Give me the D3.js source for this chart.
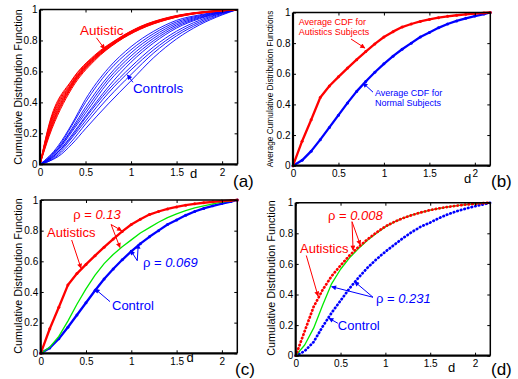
<!DOCTYPE html>
<html><head><meta charset="utf-8">
<script src="https://cdn.jsdelivr.net/npm/d3@7"></script>
<style>
html,body{margin:0;padding:0;background:#fff;}
svg{display:block;}
text{font-family:"Liberation Sans", Arial, Helvetica, sans-serif;}
</style></head><body>
<svg id="chart" width="518" height="379"></svg>
<script>
// ---------------- DATA ----------------
const xTicks = [0, 0.5, 1, 1.5, 2];
const xTickLabels = ["0", "0.5", "1", "1.5", "2"];
const yTicks = [0, 0.2, 0.4, 0.6, 0.8, 1];
const yTickLabels = ["0", "0.2", "0.4", "0.6", "0.8", "1"];

// (a) individual CDFs
const dRedA = [0, 0.1, 0.35, 0.6, 0.85, 1.1, 1.4, 1.7, 2.0, 2.17];
const autisticCurvesA = [
  [0, 0.26, 0.545, 0.705, 0.81, 0.89, 0.948, 0.98, 0.995, 1],
  [0, 0.25, 0.54, 0.70, 0.808, 0.888, 0.946, 0.979, 0.994, 1],
  [0, 0.245, 0.53, 0.697, 0.806, 0.886, 0.945, 0.978, 0.994, 1],
  [0, 0.235, 0.525, 0.693, 0.803, 0.884, 0.943, 0.977, 0.993, 1],
  [0, 0.225, 0.52, 0.69, 0.80, 0.882, 0.942, 0.976, 0.993, 1],
  [0, 0.215, 0.515, 0.686, 0.798, 0.88, 0.94, 0.975, 0.992, 1],
  [0, 0.205, 0.51, 0.683, 0.796, 0.878, 0.939, 0.974, 0.992, 1],
  [0, 0.2, 0.505, 0.68, 0.794, 0.876, 0.938, 0.973, 0.991, 1],
  [0, 0.19, 0.50, 0.675, 0.792, 0.874, 0.936, 0.973, 0.991, 1],
  [0, 0.18, 0.49, 0.67, 0.79, 0.872, 0.935, 0.972, 0.99, 1]
];
const dBlueA = [0, 0.1, 0.2, 0.35, 0.5, 0.75, 1.0, 1.25, 1.5, 1.75, 2.0, 2.17];
const controlCurvesA = [
  [0, 0.05, 0.12, 0.26, 0.42, 0.62, 0.76, 0.86, 0.93, 0.965, 0.99, 1],
  [0, 0.05, 0.11, 0.25, 0.40, 0.60, 0.74, 0.845, 0.92, 0.96, 0.988, 1],
  [0, 0.04, 0.10, 0.23, 0.37, 0.57, 0.72, 0.83, 0.91, 0.955, 0.986, 1],
  [0, 0.04, 0.10, 0.22, 0.35, 0.55, 0.70, 0.815, 0.90, 0.95, 0.984, 1],
  [0, 0.035, 0.09, 0.21, 0.33, 0.53, 0.68, 0.80, 0.89, 0.945, 0.982, 1],
  [0, 0.03, 0.08, 0.19, 0.31, 0.50, 0.66, 0.785, 0.88, 0.94, 0.98, 1],
  [0, 0.03, 0.08, 0.18, 0.30, 0.48, 0.63, 0.76, 0.86, 0.93, 0.977, 1],
  [0, 0.025, 0.07, 0.17, 0.28, 0.46, 0.61, 0.74, 0.845, 0.92, 0.975, 1],
  [0, 0.02, 0.06, 0.15, 0.26, 0.43, 0.58, 0.72, 0.83, 0.91, 0.97, 1],
  [0, 0.02, 0.05, 0.13, 0.23, 0.39, 0.54, 0.69, 0.81, 0.90, 0.965, 1]
];

// (b), (c), (d): CDFs sampled on a 0.1 grid
const dFine = [0, 0.1, 0.2, 0.3, 0.4, 0.5, 0.6, 0.7, 0.8, 0.9, 1.0, 1.1, 1.2, 1.3, 1.4, 1.5, 1.6, 1.7, 1.8, 1.9, 2.0, 2.1, 2.17];
const avgAutistic = [0, 0.16, 0.30, 0.445, 0.52, 0.58, 0.637, 0.692, 0.745, 0.795, 0.84, 0.875, 0.905, 0.925, 0.942, 0.955, 0.966, 0.975, 0.982, 0.988, 0.993, 0.997, 1];
const avgControl  = [0, 0.035, 0.095, 0.17, 0.25, 0.33, 0.41, 0.485, 0.55, 0.61, 0.665, 0.715, 0.76, 0.80, 0.84, 0.87, 0.90, 0.925, 0.945, 0.962, 0.977, 0.99, 1];
const fitC        = [0, 0.04, 0.11, 0.21, 0.32, 0.42, 0.51, 0.585, 0.645, 0.695, 0.74, 0.785, 0.82, 0.855, 0.885, 0.91, 0.93, 0.948, 0.962, 0.975, 0.986, 0.995, 1];
const autisticD   = [0, 0.16, 0.32, 0.43, 0.52, 0.59, 0.655, 0.71, 0.76, 0.805, 0.845, 0.875, 0.90, 0.92, 0.937, 0.952, 0.963, 0.973, 0.981, 0.988, 0.993, 0.997, 1];
const fitD        = [0, 0.07, 0.18, 0.33, 0.47, 0.565, 0.64, 0.70, 0.755, 0.80, 0.842, 0.875, 0.90, 0.92, 0.937, 0.952, 0.963, 0.973, 0.981, 0.988, 0.993, 0.997, 1];
const controlD    = [0, 0.03, 0.09, 0.19, 0.28, 0.36, 0.44, 0.51, 0.575, 0.63, 0.68, 0.725, 0.77, 0.81, 0.845, 0.87, 0.90, 0.925, 0.945, 0.962, 0.977, 0.99, 1];

const xMax = 2.17;

// ---------------- DRAWING ----------------
const RED = "#ff0000", BLUE = "#0000ff", GREEN = "#00ea00";
const svg = d3.select("#chart");
const defs = svg.append("defs");
[["red", RED], ["blue", BLUE]].forEach(([n, c]) => {
  defs.append("marker").attr("id", "arrow-" + n)
    .attr("viewBox", "0 0 10 10").attr("refX", 9).attr("refY", 5)
    .attr("markerWidth", 6.5).attr("markerHeight", 5)
    .attr("markerUnits", "userSpaceOnUse").attr("orient", "auto")
    .append("path").attr("d", "M0,0L10,5L0,10z").attr("fill", c);
});

function panel(box) {
  const x = d3.scaleLinear().domain([0, xMax]).range([box.l, box.r]);
  const y = d3.scaleLinear().domain([0, 1]).range([box.b, box.t]);
  const g = svg.append("g");
  const plot = g.append("g");
  const axG = g.append("g");
  const bottom = axG.append("g").attr("transform", `translate(0,${box.b})`)
    .call(d3.axisBottom(x).tickValues(xTicks).tickFormat((d, i) => xTickLabels[i])
      .tickSizeInner(-3).tickSizeOuter(0).tickPadding(4.5));
  const left = axG.append("g").attr("transform", `translate(${box.l},0)`)
    .call(d3.axisLeft(y).tickValues(yTicks).tickFormat((d, i) => yTickLabels[i])
      .tickSizeInner(-3).tickSizeOuter(0).tickPadding(2.5));
  const top = axG.append("g").attr("transform", `translate(0,${box.t})`)
    .call(d3.axisTop(x).tickValues(xTicks).tickFormat("").tickSizeInner(-3).tickSizeOuter(0));
  const right = axG.append("g").attr("transform", `translate(${box.r},0)`)
    .call(d3.axisRight(y).tickValues(yTicks).tickFormat("").tickSizeInner(-3).tickSizeOuter(0));
  [bottom, left, top, right].forEach(a => {
    a.select(".domain").remove();
    a.attr("font-family", null).attr("font-size", null);
    a.selectAll("line").attr("stroke", "#000").attr("stroke-width", 1);
    a.selectAll("text").attr("font-size", 10).attr("fill", "#000");
  });
  axG.append("path").attr("d", `M${box.l},${box.t}H${box.r}V${box.b}`)
    .attr("fill", "none").attr("stroke", "#000").attr("stroke-width", 1.5);
  axG.append("path").attr("d", `M${box.l},${box.t}V${box.b}H${box.r}`)
    .attr("fill", "none").attr("stroke", "#000").attr("stroke-width", 2.2);
  return { x, y, g, plot, box };
}

function curve(p, xs, vals, color, width, opts = {}) {
  const line = d3.line().x((d, i) => p.x(xs[i])).y(d => p.y(d))
    .curve(opts.linear ? d3.curveLinear : d3.curveMonotoneX);
  const path = p.plot.append("path").datum(vals).attr("d", line)
    .attr("fill", "none").attr("stroke", color).attr("stroke-width", width)
    .attr("stroke-linejoin", "round");
  if (opts.dash) path.attr("stroke-dasharray", opts.dash).attr("stroke-linecap", "round");
  if (opts.markers) {
    p.plot.selectAll(null).data(vals).enter().append("circle")
      .attr("cx", (d, i) => p.x(xs[i])).attr("cy", d => p.y(d))
      .attr("r", opts.markers).attr("fill", color);
  }
}

function label(p, parts, color, dx, dy, size, anchor) {
  const t = p.g.append("text").attr("x", p.x(dx)).attr("y", p.y(dy))
    .attr("fill", color).attr("font-size", size).attr("text-anchor", anchor || "start");
  parts.forEach(pt => {
    const s = t.append("tspan").text(pt.t);
    if (pt.it) s.attr("font-style", "italic");
  });
  return t;
}

function arrow(p, color, x1, y1, x2, y2) {
  p.g.append("line").attr("x1", p.x(x1)).attr("y1", p.y(y1))
    .attr("x2", p.x(x2)).attr("y2", p.y(y2))
    .attr("stroke", color).attr("stroke-width", 1)
    .attr("marker-end", `url(#arrow-${color === RED ? "red" : "blue"})`);
}

function yLabel(cx, cy, text, size) {
  svg.append("text").attr("transform", `translate(${cx},${cy}) rotate(-90)`)
    .attr("text-anchor", "middle").attr("dy", "0.35em")
    .attr("font-size", size).attr("fill", "#000").text(text);
}
function freeText(x, y, text, size, family, anchor) {
  const t = svg.append("text").attr("x", x).attr("y", y).attr("font-size", size)
    .attr("fill", "#000").attr("text-anchor", anchor || "start").text(text);
  if (family) t.attr("font-family", family);
  return t;
}
const SERIF = '"Liberation Serif", "Times New Roman", serif';

// ---- Panel (a)
const pA = panel({ l: 40, r: 237.6, t: 9.5, b: 164.3 });
controlCurvesA.forEach(c => curve(pA, dBlueA, c, BLUE, 0.9));
autisticCurvesA.forEach(c => curve(pA, dRedA, c, RED, 1));
label(pA, [{ t: "Autistic" }], RED, 0.44, 0.835, 13.5);
arrow(pA, RED, 0.62, 0.817, 0.71, 0.745);
label(pA, [{ t: "Controls" }], BLUE, 1.02, 0.46, 13.5);
arrow(pA, BLUE, 1.02, 0.53, 0.96, 0.577);
yLabel(18, 87, "Cumulative Distribution Function", 10.8);
freeText(193.5, 178, "d", 13, null, "middle");
freeText(233, 187, "(a)", 17, SERIF);

// ---- Panel (b)
const pB = panel({ l: 293, r: 490.3, t: 12.5, b: 165.7 });
curve(pB, dFine, avgControl, BLUE, 2.3, { markers: 1.5, linear: true });
curve(pB, dFine, avgAutistic, RED, 2.3, { markers: 1.5, linear: true });
label(pB, [{ t: "Average CDF for" }], RED, 0.063, 0.918, 9);
label(pB, [{ t: "Autistics Subjects" }], RED, 0.063, 0.855, 9);
arrow(pB, RED, 0.638, 0.827, 0.79, 0.768);
label(pB, [{ t: "Average CDF for" }], BLUE, 0.902, 0.455, 9);
label(pB, [{ t: "Normal Subjects" }], BLUE, 0.902, 0.39, 9);
arrow(pB, BLUE, 0.88, 0.48, 0.77, 0.54);
yLabel(270.5, 89, "Average Cumulative Distribution Functions", 8.3);
freeText(467.5, 183, "d", 13, null, "middle");
freeText(491, 187, "(b)", 17, SERIF);

// ---- Panel (c)
const pC = panel({ l: 40.7, r: 237.3, t: 200, b: 353.3 });
curve(pC, dFine, avgControl, BLUE, 2.3, { markers: 1.5, linear: true });
curve(pC, dFine, fitC, GREEN, 1.3, { linear: true });
curve(pC, dFine, avgAutistic, RED, 2.3, { markers: 1.5, linear: true });
label(pC, [{ t: "ρ = " }, { t: "0.13", it: true }], RED, 0.36, 0.876, 13);
arrow(pC, RED, 0.777, 0.84, 0.894, 0.80);
arrow(pC, RED, 0.777, 0.84, 0.875, 0.69);
label(pC, [{ t: "Autistics" }], RED, 0.07, 0.759, 13);
arrow(pC, RED, 0.342, 0.739, 0.445, 0.555);
label(pC, [{ t: "ρ = " }, { t: "0.069", it: true }], BLUE, 1.13, 0.56, 13);
arrow(pC, BLUE, 1.066, 0.604, 0.993, 0.672);
arrow(pC, BLUE, 1.066, 0.604, 1.077, 0.712);
label(pC, [{ t: "Control" }], BLUE, 0.787, 0.282, 13);
arrow(pC, BLUE, 0.765, 0.337, 0.6, 0.42);
yLabel(18, 276, "Cumulative Distribution Function", 10.8);
freeText(190, 362, "d", 13, null, "middle");
freeText(235, 375, "(c)", 17, SERIF);

// ---- Panel (d)
const pD = panel({ l: 295.7, r: 490.3, t: 202.7, b: 355.7 });
curve(pD, dFine, controlD, BLUE, 2.7, { dash: "0.5,3.2", linear: true });
curve(pD, dFine, fitD, GREEN, 1.3, { linear: true });
curve(pD, dFine, autisticD, RED, 2.7, { dash: "0.5,3.2", linear: true });
label(pD, [{ t: "ρ = " }, { t: "0.008", it: true }], RED, 0.36, 0.887, 13);
arrow(pD, RED, 0.628, 0.876, 0.64, 0.69);
arrow(pD, RED, 0.628, 0.876, 0.72, 0.725);
label(pD, [{ t: "Autistics" }], RED, 0.048, 0.671, 13);
arrow(pD, RED, 0.118, 0.655, 0.249, 0.39);
label(pD, [{ t: "ρ = " }, { t: "0.231", it: true }], BLUE, 0.895, 0.344, 13);
arrow(pD, BLUE, 0.862, 0.382, 0.40, 0.451);
arrow(pD, BLUE, 0.862, 0.382, 0.657, 0.484);
label(pD, [{ t: "Control" }], BLUE, 0.47, 0.168, 13);
arrow(pD, BLUE, 0.47, 0.212, 0.37, 0.245);
yLabel(271, 278, "Cumulative Distribution Function", 10.8);
freeText(451.5, 371.7, "d", 13, null, "middle");
freeText(491, 375, "(d)", 17, SERIF);
</script>
</body></html>
